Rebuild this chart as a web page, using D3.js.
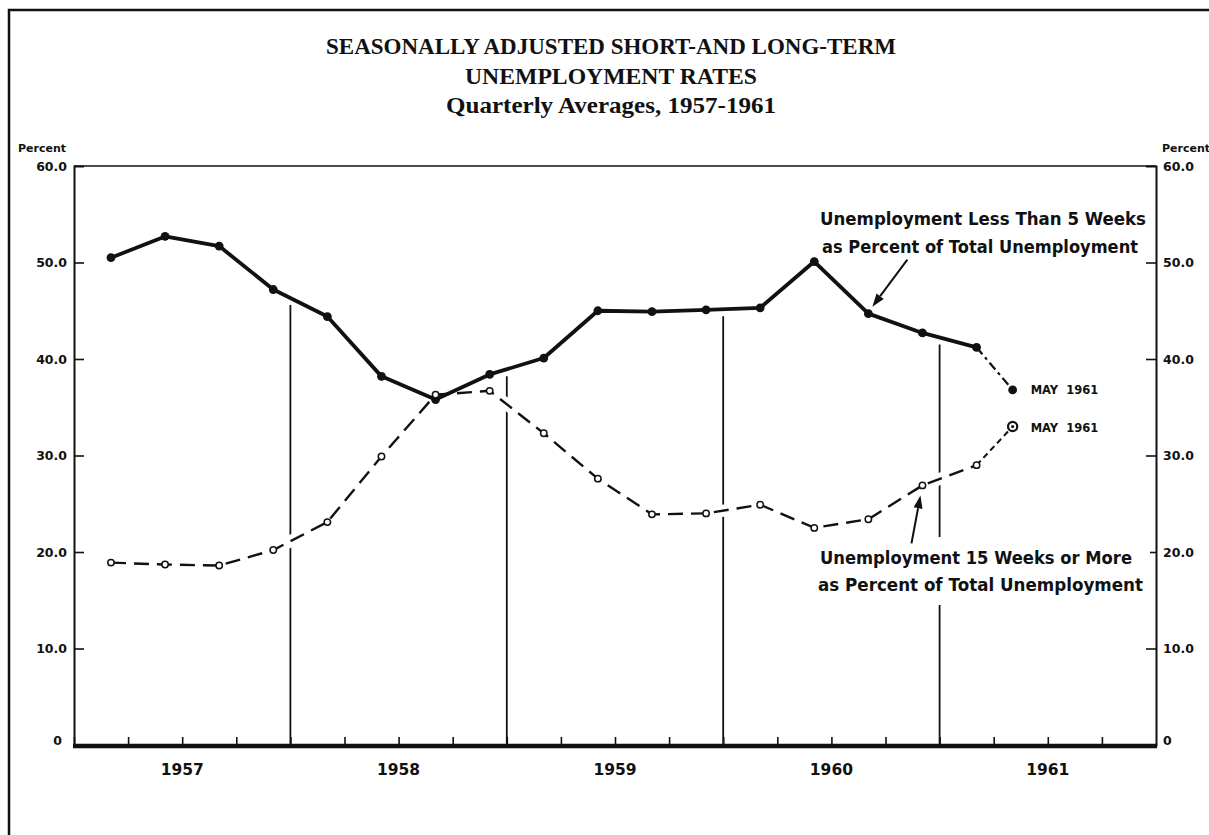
<!DOCTYPE html>
<html>
<head>
<meta charset="utf-8">
<script src="https://cdn.jsdelivr.net/npm/d3@7"></script>
<style>
  body { margin: 0; background: #fff; }
  svg { display: block; }
  .tick text { font-family: "DejaVu Sans", sans-serif; font-weight: bold; font-size: 12.5px; fill: #111; }
  .lab { font-family: "DejaVu Sans", sans-serif; font-weight: bold; fill: #111; }
</style>
</head>
<body>
<div id="chart"></div>
<script>
// values (quarterly averages + May 1961)
const periods = ["1957-Q1", "1957-Q2", "1957-Q3", "1957-Q4",
                 "1958-Q1", "1958-Q2", "1958-Q3", "1958-Q4",
                 "1959-Q1", "1959-Q2", "1959-Q3", "1959-Q4",
                 "1960-Q1", "1960-Q2", "1960-Q3", "1960-Q4",
                 "1961-Q1", "1961-May"]
const shortTerm = [50.5, 52.7, 51.7, 47.2, 44.4, 38.2, 35.8, 38.4, 40.1, 45.0, 44.9, 45.1,
                   45.3, 50.1, 44.7, 42.7, 41.2, 36.8]
const longTerm = [18.9, 18.7, 18.6, 20.2, 23.1, 29.9, 36.3, 36.7, 32.3, 27.6, 23.9, 24.0,
                  24.9, 22.5, 23.4, 26.9, 29.0, 33.0]
const years = [1957, 1958, 1959, 1960, 1961]
const yTicks = [0, 10, 20, 30, 40, 50, 60]
const titleLines = ["SEASONALLY ADJUSTED SHORT-AND LONG-TERM", "UNEMPLOYMENT RATES", "Quarterly Averages, 1957-1961"]
const shortLabel = ["Unemployment Less Than 5 Weeks", "as Percent of Total Unemployment"]
const longLabel = ["Unemployment 15 Weeks or More", "as Percent of Total Unemployment"]
const lastLabel = "MAY  1961"

const svgWidth = 1209
const svgHeight = 835
const margin = { top: 166, right: 53, bottom: 90, left: 74 }

const months = { Jan: 0, Feb: 1, Mar: 2, Apr: 3, May: 4, Jun: 5, Jul: 6, Aug: 7, Sep: 8, Oct: 9, Nov: 10, Dec: 11 }

// quarterly averages are plotted a bit past the start of the quarter's middle month
function periodPos(p) {
  const [yr, part] = p.split("-")
  if (part[0] === "Q") return +yr + ((+part[1] - 1) * 3 + 2.05) / 12
  return +yr + (months[part] + 0.05) / 12
}

const pts = periods.map((p, i) => ({ t: periodPos(p), s: shortTerm[i], l: longTerm[i] }))

const x = d3.scaleLinear().domain([1957, 1962]).range([margin.left, svgWidth - margin.right])
const y = d3.scaleLinear().domain([0, 60]).range([svgHeight - margin.bottom, margin.top])

const svg = d3.select("#chart").append("svg")
  .attr("width", svgWidth)
  .attr("height", svgHeight)

// page frame (top + left edge)
svg.append("path")
  .attr("d", "M9,835V10H1209")
  .attr("fill", "none")
  .attr("stroke", "#111")
  .attr("stroke-width", 2.5)

// plot frame top
svg.append("line")
  .attr("x1", x(1957)).attr("x2", x(1962))
  .attr("y1", y(60)).attr("y2", y(60))
  .attr("stroke", "#111").attr("stroke-width", 1.6)

// left / right axes, ticks pointing inward
const leftAxis = d3.axisLeft(y).tickValues(yTicks).tickSize(-10).tickPadding(7)
  .tickFormat(d => d === 0 ? "0" : d.toFixed(1))
const rightAxis = d3.axisRight(y).tickValues(yTicks).tickSize(-10).tickPadding(7)
  .tickFormat(d => d === 0 ? "0" : d.toFixed(1))

const gl = svg.append("g").attr("transform", `translate(${x(1957)},0)`).call(leftAxis)
const gr = svg.append("g").attr("transform", `translate(${x(1962)},0)`).call(rightAxis)
;[gl, gr].forEach(g => {
  g.select(".domain").attr("stroke", "#111").attr("stroke-width", 2)
  g.selectAll(".tick line").attr("stroke", "#111").attr("stroke-width", 1.6)
  g.selectAll(".tick").filter(d => d === 60 || d === 0).select("line").remove()
  g.selectAll(".tick").filter(d => d === 0).select("text").attr("dy", "-0.05em")
})
gl.selectAll(".tick").filter(d => d === 0).select("text").attr("x", -12)

// quarter ticks on the bottom
const quarterTicks = d3.range(1957, 1962, 0.25)
const bottomAxis = d3.axisBottom(x).tickValues(quarterTicks).tickSize(-8).tickFormat("")
const gb = svg.append("g").attr("transform", `translate(0,${y(0)})`).call(bottomAxis)
gb.select(".domain").remove()
gb.selectAll(".tick line").attr("stroke", "#111").attr("stroke-width", 1.6)

svg.append("line")
  .attr("x1", x(1957) - 1).attr("x2", x(1962) + 1)
  .attr("y1", y(0) + 1).attr("y2", y(0) + 1)
  .attr("stroke", "#111").attr("stroke-width", 4.5)

svg.selectAll(".year")
  .data(years)
  .enter()
  .append("text")
  .attr("class", "lab year")
  .attr("x", d => x(d + 0.5))
  .attr("y", y(0) + 30)
  .attr("text-anchor", "middle")
  .attr("font-size", 15.5)
  .text(d => d)

// "Percent" headers
svg.append("text").attr("class", "lab").attr("x", 18).attr("y", 152)
  .attr("font-size", 11).text("Percent")
svg.append("text").attr("class", "lab").attr("x", 1162).attr("y", 152)
  .attr("font-size", 11).text("Percent")

// value of solid series at time t (linear between points)
function solidAt(t) {
  for (let i = 0; i < pts.length - 1; i++) {
    if (t >= pts[i].t && t <= pts[i + 1].t) {
      const f = (t - pts[i].t) / (pts[i + 1].t - pts[i].t)
      return pts[i].s + f * (pts[i + 1].s - pts[i].s)
    }
  }
  return null
}

// year separator lines, stop just under the solid curve
svg.selectAll(".sep")
  .data(years.slice(1))
  .enter()
  .append("line")
  .attr("x1", d => x(d)).attr("x2", d => x(d))
  .attr("y1", y(0))
  .attr("y2", d => y(solidAt(d)) + 7)
  .attr("stroke", "#111")
  .attr("stroke-width", 1.8)

const solidPath = d3.line().x(d => x(d.t)).y(d => y(d.s))
const longPath = d3.line().x(d => x(d.t)).y(d => y(d.l))

const main = pts.slice(0, pts.length - 1)
const tail = pts.slice(pts.length - 2)

// white underlay so the separators break where the dashed line crosses
svg.append("path")
  .attr("d", longPath(pts))
  .attr("fill", "none")
  .attr("stroke", "#fff")
  .attr("stroke-width", 12)

// white box behind the lower label, breaks the 1961 separator
svg.append("rect")
  .attr("x", 812).attr("y", 537)
  .attr("width", 338).attr("height", 68)
  .attr("fill", "#fff")

function drawLabel(lines, xl, yl, widths) {
  lines.forEach((t, i) => {
    svg.append("text")
      .attr("class", "lab")
      .attr("x", xl[i])
      .attr("y", yl[i])
      .attr("font-size", 16.8)
      .attr("textLength", widths[i])
      .attr("lengthAdjust", "spacingAndGlyphs")
      .text(t)
  })
}
drawLabel(shortLabel, [820, 822], [225, 253], [326, 316])
drawLabel(longLabel, [820, 818], [564, 591], [312, 325])

// solid series
svg.append("path")
  .attr("d", solidPath(main))
  .attr("fill", "none")
  .attr("stroke", "#111")
  .attr("stroke-width", 3.8)
  .attr("stroke-linejoin", "round")
svg.append("path")
  .attr("d", solidPath(tail))
  .attr("fill", "none")
  .attr("stroke", "#111")
  .attr("stroke-width", 2.2)
  .attr("stroke-dasharray", "9 4 3 4")
svg.selectAll(".sdot")
  .data(pts)
  .enter()
  .append("circle")
  .attr("cx", d => x(d.t))
  .attr("cy", d => y(d.s))
  .attr("r", 4.4)
  .attr("fill", "#111")

// dashed series
svg.append("path")
  .attr("d", longPath(main))
  .attr("fill", "none")
  .attr("stroke", "#111")
  .attr("stroke-width", 2.4)
  .attr("stroke-dasharray", "15 8")
svg.append("path")
  .attr("d", longPath(tail))
  .attr("fill", "none")
  .attr("stroke", "#111")
  .attr("stroke-width", 2)
  .attr("stroke-dasharray", "6 4")
svg.selectAll(".ldot")
  .data(main)
  .enter()
  .append("circle")
  .attr("cx", d => x(d.t))
  .attr("cy", d => y(d.l))
  .attr("r", 3.2)
  .attr("fill", "#fff")
  .attr("stroke", "#111")
  .attr("stroke-width", 1.5)
const lastPt = pts[pts.length - 1]
svg.append("circle")
  .attr("cx", x(lastPt.t)).attr("cy", y(lastPt.l))
  .attr("r", 4.6)
  .attr("fill", "#fff").attr("stroke", "#111").attr("stroke-width", 2.2)
svg.append("circle")
  .attr("cx", x(lastPt.t)).attr("cy", y(lastPt.l))
  .attr("r", 1.6)
  .attr("fill", "#111")

// MAY 1961 labels
svg.append("text").attr("class", "lab").attr("x", x(lastPt.t) + 18).attr("y", y(lastPt.s) + 4)
  .attr("font-size", 11.5).style("white-space", "pre").text(lastLabel)
svg.append("text").attr("class", "lab").attr("x", x(lastPt.t) + 18).attr("y", y(lastPt.l) + 5)
  .attr("font-size", 11.5).style("white-space", "pre").text(lastLabel)

// arrows
function arrow(x1, y1, x2, y2) {
  const a = Math.atan2(y2 - y1, x2 - x1)
  const len = 13, w = 4.5
  const bx = x2 - len * Math.cos(a), by = y2 - len * Math.sin(a)
  svg.append("line")
    .attr("x1", x1).attr("y1", y1).attr("x2", bx).attr("y2", by)
    .attr("stroke", "#111").attr("stroke-width", 2)
  svg.append("path")
    .attr("d", `M${x2},${y2}L${bx + w * Math.sin(a)},${by - w * Math.cos(a)}L${bx - w * Math.sin(a)},${by + w * Math.cos(a)}Z`)
    .attr("fill", "#111")
}
const sP = pts[14]  // 1960 Q3
arrow(x(sP.t) + 39, y(sP.s) - 54, x(sP.t) + 4, y(sP.s) - 7)
const lP = pts[15]  // 1960 Q4
arrow(x(lP.t) - 11, y(lP.l) + 58, x(lP.t) - 2, y(lP.l) + 10)

// title
const titleY = [54, 84, 113]
const titleW = [570, 292, 330]
titleLines.forEach((t, i) => {
  svg.append("text")
    .attr("x", (x(1957) + x(1962)) / 2 - 4)
    .attr("y", titleY[i])
    .attr("text-anchor", "middle")
    .attr("font-family", "'Liberation Serif', 'DejaVu Serif', serif")
    .attr("font-weight", "bold")
    .attr("font-size", 23)
    .attr("textLength", titleW[i])
    .attr("lengthAdjust", "spacingAndGlyphs")
    .attr("fill", "#111")
    .text(t)
})
</script>
</body>
</html>
